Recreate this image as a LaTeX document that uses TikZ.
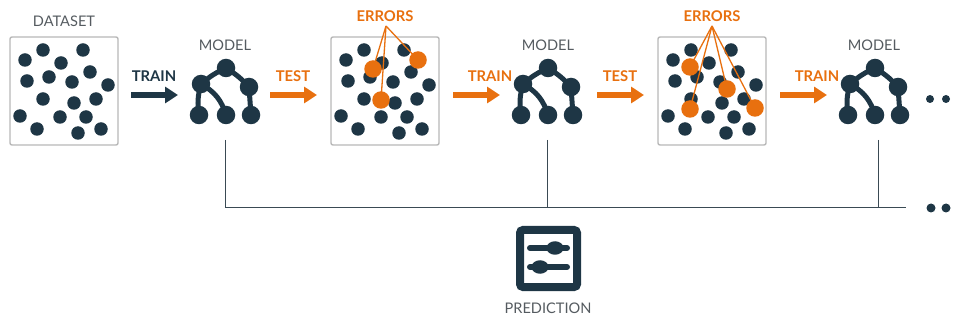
\documentclass[tikz,border=0pt]{standalone}
\usepackage{fontspec}
\setmainfont{Lato}
\usetikzlibrary{arrows.meta,shapes.geometric}
\definecolor{ink}{HTML}{1E3645}
\definecolor{hot}{HTML}{E8700F}
\definecolor{cap}{HTML}{555B60}
\definecolor{frame}{HTML}{B8B8B8}
\definecolor{wire}{HTML}{3A4A54}
\tikzset{
  x=1pt,y=-1pt,
  dot/.style={circle,fill=ink,inner sep=0pt,minimum size=13.5pt},
  bigdot/.style={circle,fill=ink,inner sep=0pt,minimum size=18.5pt},
  errdot/.style={circle,fill=hot,inner sep=0pt,minimum size=17.5pt},
  sdot/.style={circle,fill=ink,inner sep=0pt,minimum size=#1},
  knob/.style={ellipse,fill=ink,inner sep=0pt,minimum width=17pt,minimum height=13.5pt},
  panel/.style={draw=frame,line width=1.4pt,rounded corners=2pt,minimum size=108pt,inner sep=0pt,fill=white},
  caption/.style={text=cap,font=\fontsize{14.6}{16}\selectfont,inner sep=0pt},
  ilabel/.style={font=\fontsize{14.8}{16}\selectfont\bfseries,inner sep=0pt},
  flow/.style={line width=6pt,-{Triangle[length=13pt,width=16pt]}},
  errline/.style={draw=hot,line width=1.3pt},
  bus/.style={draw=wire,line width=1pt},
  limb/.style={draw=ink,line width=5pt},
  pics/scatter/.style={code={
    \node[panel] (-box) at (54,54) {};
    \foreach \i/\a/\b in {1/33/13,2/73/13,3/15/23,4/51/26,5/80/35,6/17/44,7/39/40,8/62/45,9/98/48,10/33/62,11/64/66,12/86/62,13/10/79,14/50/80,15/76/80,16/27/92,17/68/96,18/91/92}
      \node[dot] (-d\i) at (\a,\b) {};
  }},
  pics/model/.style={code={
    \node[bigdot] (-root) at (0,-1) {};
    \node[bigdot] (-l) at (-25,15) {};
    \node[bigdot] (-r) at (23,18) {};
    \node[bigdot] (-a) at (-27,46) {};
    \node[bigdot] (-b) at (0,46) {};
    \node[bigdot] (-c) at (25,46) {};
    \draw[limb] (-root.center) to[bend right=8] (-l.center);
    \draw[limb] (-root.center) to[bend left=8] (-r.center);
    \draw[limb] (-l.center) to[bend right=12] (-a.center);
    \draw[limb] (-l.center) to[bend left=22] (-b.center);
    \draw[limb] (-r.center) -- (-c.center);
  }},
}
\begin{document}
\begin{tikzpicture}
\useasboundingbox (0,0) rectangle (955,320);
% bus
\coordinate (busL) at (225,208);
\coordinate (busM) at (547,208);
\coordinate (busR) at (878,208);
\coordinate (busE) at (906,208);
\coordinate (t1) at (225,140);
\coordinate (t2) at (547,140);
\coordinate (t3) at (878,140);
\draw[bus] (busL) -- (busE);
\draw[bus] (t1) -- (busL);
\draw[bus] (t2) -- (busM);
\draw[bus] (t3) -- (busR);
% panels
\pic (p1) at (10,37) {scatter};
\pic (p2) at (331,37) {scatter};
\pic (p3) at (658,37) {scatter};
% models
\pic (m1) at (226,69) {model};
\pic (m2) at (548,69) {model};
\pic (m3) at (875,69) {model};
% trailing dots
\node[sdot=8pt] (ta) at (930,99) {};
\node[sdot=8pt] (tb) at (946,99) {};
\node[sdot=9pt] (ua) at (931,208) {};
\node[sdot=9pt] (ub) at (946,208) {};
% captions
\node[caption] (cd) at (64,21) {DATASET};
\node[caption] (c1) at (225,45) {MODEL};
\node[caption] (c2) at (548,45) {MODEL};
\node[caption] (c3) at (874,45) {MODEL};
\node[caption] (cp) at (548,308) {PREDICTION};
% arrows
\coordinate (a1s) at (131,95); \coordinate (a1e) at (178,95);
\coordinate (a2s) at (270,95); \coordinate (a2e) at (317,95);
\coordinate (a3s) at (453,95); \coordinate (a3e) at (500,95);
\coordinate (a4s) at (597,95); \coordinate (a4e) at (644,95);
\coordinate (a5s) at (780,95); \coordinate (a5e) at (827,95);
\draw[flow,ink] (a1s) -- (a1e);
\draw[flow,hot] (a2s) -- (a2e);
\draw[flow,hot] (a3s) -- (a3e);
\draw[flow,hot] (a4s) -- (a4e);
\draw[flow,hot] (a5s) -- (a5e);
\node[ilabel,text=ink] (l1) at (154,76) {TRAIN};
\node[ilabel,text=hot] (l2) at (293,76) {TEST};
\node[ilabel,text=hot] (l3) at (490,76) {TRAIN};
\node[ilabel,text=hot] (l4) at (620,76) {TEST};
\node[ilabel,text=hot] (l5) at (817,76) {TRAIN};
% errors
\node[ilabel,text=hot] (eA) at (385,16) {ERRORS};
\node[ilabel,text=hot] (eB) at (712,16) {ERRORS};
\coordinate (apA) at (386,26);
\coordinate (apB) at (712,26);
\node[errdot] (e1) at (373,69) {};
\node[errdot] (e2) at (418,60) {};
\node[errdot] (e3) at (381,100) {};
\node[errdot] (f1) at (690,67) {};
\node[errdot] (f2) at (727,89) {};
\node[errdot] (f3) at (690,109) {};
\node[errdot] (f4) at (755,108) {};
\foreach \n in {e1,e2,e3} \draw[errline] (apA) -- (\n.center);
\foreach \n in {f1,f2,f3,f4} \draw[errline] (apB) -- (\n.center);
% prediction icon
\node[draw=ink,line width=8pt,rounded corners=3pt,minimum size=57pt,inner sep=0pt] (pred) at (548.5,258.5) {};
\coordinate (s1a) at (530,248); \coordinate (s1b) at (567,248);
\coordinate (s2a) at (530,267); \coordinate (s2b) at (567,267);
\draw[ink,line width=6pt,line cap=round] (s1a) -- (s1b);
\draw[ink,line width=6pt,line cap=round] (s2a) -- (s2b);
\node[knob] (k1) at (555,248) {};
\node[knob] (k2) at (540,267) {};
\end{tikzpicture}
\end{document}
